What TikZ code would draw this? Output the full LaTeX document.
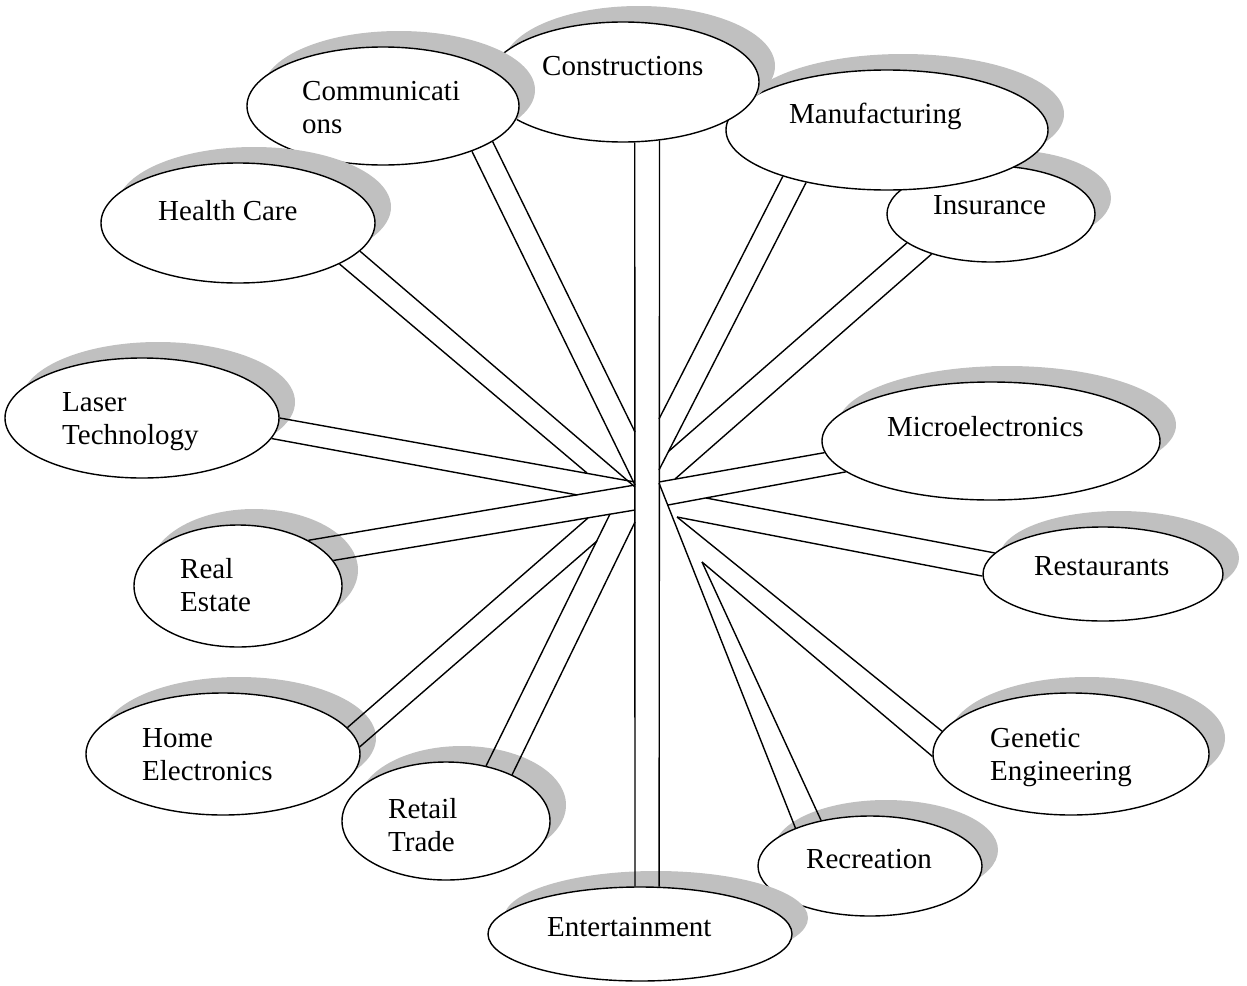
\documentclass[tikz,border=0pt]{standalone}
\usepackage{fontspec}
\setmainfont{Liberation Serif}
\usetikzlibrary{shapes.geometric,shadows}
\definecolor{shadowgray}{RGB}{192,192,192}
\newcommand\twoln[2]{\begin{tabular}[t]{@{}l@{}}#1\\#2\end{tabular}}
\begin{document}
\begin{tikzpicture}[x=1pt,y=-1pt,
  bub/.style={shape=ellipse, draw=black, fill=white, line width=1.4pt, inner sep=0pt,
    general shadow={fill=shadowgray, shadow xshift=16pt, shadow yshift=16pt}},
  lbl/.style={font=\fontsize{29}{33.5}\selectfont, inner sep=0pt, anchor=base west},
  spk/.style={draw=black, line width=1.4pt}]
\useasboundingbox (0,0) rectangle (1247,985);

% ellipses, bottom to top
\node[bub, minimum width=208pt, minimum height=96pt] (ins) at (991,214) {};
\node[lbl] (ins-t) at (933,214) {Insurance};
\node[bub, minimum width=322pt, minimum height=120pt] (manu) at (887,130) {};
\node[lbl] (manu-t) at (789,123) {Manufacturing};
\node[bub, minimum width=272pt, minimum height=120pt] (cons) at (623,82) {};
\node[lbl] (cons-t) at (542,75) {Constructions};
\node[bub, minimum width=272pt, minimum height=118pt] (comm) at (383,106) {};
\node[lbl] (comm-t) at (302,100) {\twoln{Communicati}{ons}};
\node[bub, minimum width=274pt, minimum height=120pt] (health) at (238,223) {};
\node[lbl] (health-t) at (158,220) {Health Care};
\node[bub, minimum width=274pt, minimum height=120pt] (laser) at (142,418) {};
\node[lbl] (laser-t) at (62,411) {\twoln{Laser}{Technology}};
\node[bub, minimum width=338pt, minimum height=118pt] (micro) at (991,441) {};
\node[lbl] (micro-t) at (887,436) {Microelectronics};
\node[bub, minimum width=208pt, minimum height=122pt] (real) at (238,586) {};
\node[lbl] (real-t) at (180,578) {\twoln{Real}{Estate}};
\node[bub, minimum width=240pt, minimum height=94pt] (rest) at (1103,574) {};
\node[lbl] (rest-t) at (1034,575) {Restaurants};
\node[bub, minimum width=274pt, minimum height=122pt] (home) at (223,754) {};
\node[lbl] (home-t) at (142,747) {\twoln{Home}{Electronics}};
\node[bub, minimum width=276pt, minimum height=122pt] (gene) at (1071,754) {};
\node[lbl] (gene-t) at (990,747) {\twoln{Genetic}{Engineering}};
\node[bub, minimum width=208pt, minimum height=118pt] (retail) at (446,821) {};
\node[lbl] (retail-t) at (388,818) {\twoln{Retail}{Trade}};
\node[bub, minimum width=224pt, minimum height=100pt] (recr) at (870,866) {};
\node[lbl] (recr-t) at (806,868) {Recreation};
\node[bub, minimum width=304pt, minimum height=94pt] (ent) at (640,934) {};
\node[lbl] (ent-t) at (547,936) {Entertainment};

% inner ends of the spoke lines
\coordinate (hcU) at (635,487);
\coordinate (hcL) at (587,473);
\coordinate (coL) at (635,485);
\coordinate (coR) at (635,432);
\coordinate (laU) at (635,482);
\coordinate (laL) at (577.5,495);
\coordinate (reU) at (635,485);
\coordinate (reL) at (635,510);
\coordinate (hoU) at (588,518);
\coordinate (hoL) at (597,541);
\coordinate (rtL) at (610,514);
\coordinate (rtR) at (635,522);
\coordinate (maA) at (659,419);
\coordinate (maB) at (659,470);
\coordinate (in1) at (669,451);
\coordinate (in2) at (675,479);
\coordinate (miU) at (659,482);
\coordinate (miL) at (668,505);
\coordinate (rsU) at (706,498);
\coordinate (j1) at (677,517);
\coordinate (j2) at (702,562);
\coordinate (rcL) at (659,483);

% spokes
\draw[spk] (hcU) -- (health.-13);
\draw[spk] (hcL) -- (health.-22);
\draw[spk] (coL) -- (comm.-27);
\draw[spk] (coR) -- (comm.-18);
\draw[spk] (laU) -- (laser.0);
\draw[spk] (laL) -- (laser.-9);
\draw[spk] (reU) -- (real.33);
\draw[spk] (reL) -- (real.15);
\draw[spk] (hoU) -- (home.12);
\draw[spk] (hoL) -- (home.3);
\draw[spk] (rtL) -- (retail.54);
\draw[spk] (rtR) -- (retail.35);
\draw[spk] (maA) -- (manu.204);
\draw[spk] (maB) -- (manu.213);
\draw[spk] (in1) -- (ins.199);
\draw[spk] (in2) -- (ins.214);
\draw[spk] (miU) -- (micro.184);
\draw[spk] (miL) -- (micro.192);
\draw[spk] (rsU) -- (rest.169);
\draw[spk] (j1) -- (rest.181);
\draw[spk] (j1) -- (gene.170);
\draw[spk] (j2) -- (gene.181);
\draw[spk] (rcL) -- (recr.153);
\draw[spk] (j2) -- (recr.137);
\draw[spk] (cons.-79) -- (ent.96);
\draw[spk] (cons.-58) -- (ent.68);
\end{tikzpicture}
\end{document}
